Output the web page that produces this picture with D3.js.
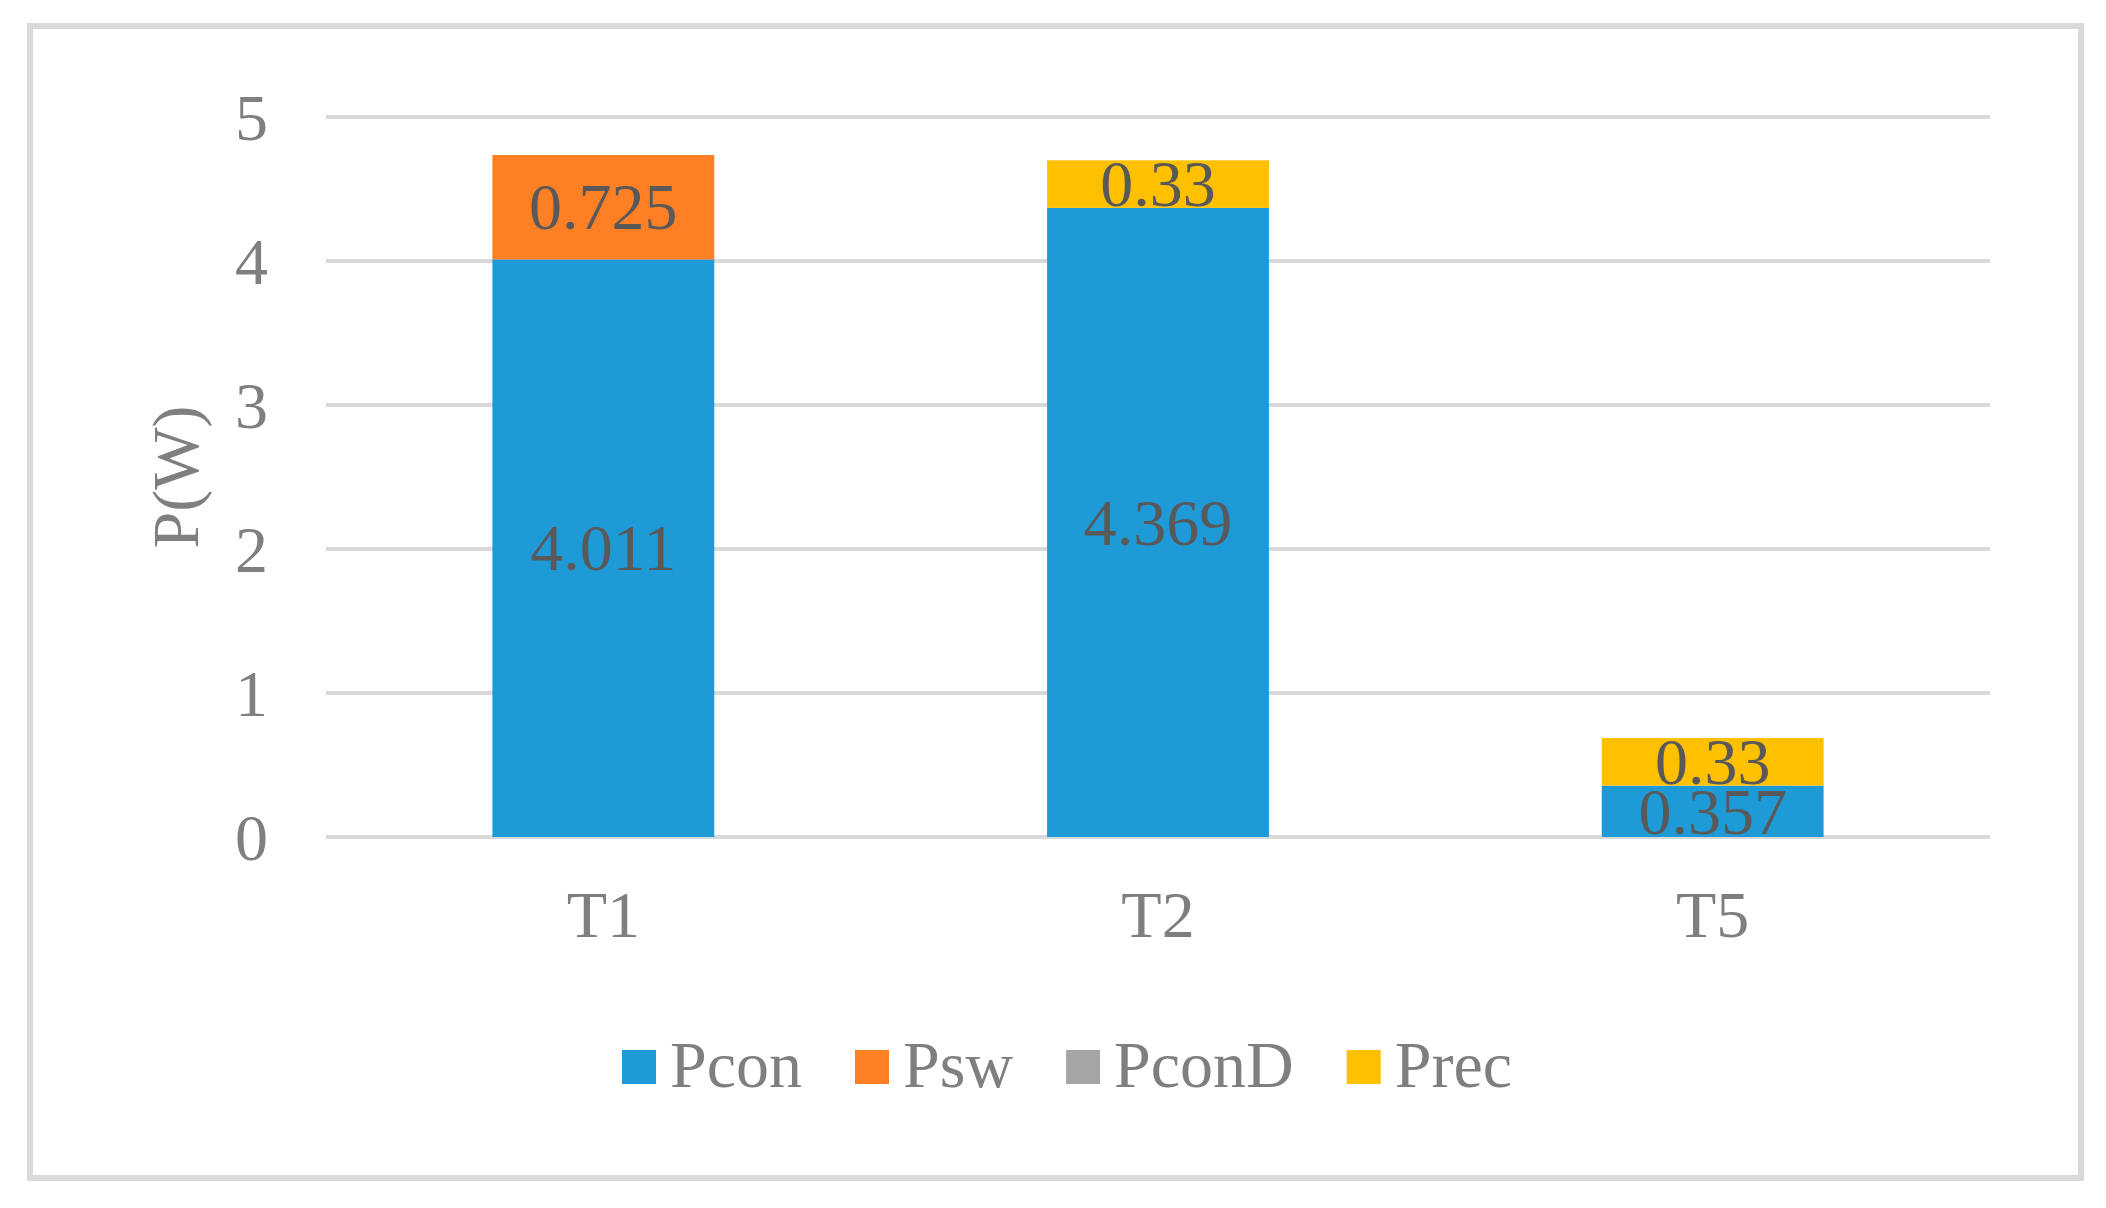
<!DOCTYPE html>
<html><head><meta charset="utf-8">
<script src="https://cdn.jsdelivr.net/npm/d3@7"></script>
<style>
html,body{margin:0;padding:0;background:#fff;}
svg{display:block;}
text{font-family:"Liberation Serif","Times New Roman",serif;}
</style></head>
<body>
<svg id="chart" width="2106" height="1208"></svg>
<script>
const categories = ["T1", "T2", "T5"];
const seriesNames = ["Pcon", "Psw", "PconD", "Prec"];
const Pcon  = [4.011, 4.369, 0.357];
const Psw   = [0.725, 0, 0];
const PconD = [0, 0, 0];
const Prec  = [0, 0.33, 0.33];
const yTicks = [0, 1, 2, 3, 4, 5];
const colors = ["#1E9BD7", "#FF7F24", "#A5A5A5", "#FFC000"];

const seriesValues = [Pcon, Psw, PconD, Prec];
const table = categories.map((c, i) => {
  const row = {cat: c};
  seriesNames.forEach((s, j) => row[s] = seriesValues[j][i]);
  return row;
});

const svg = d3.select("#chart");
const FS = 66;

// chart border
svg.append("rect").attr("x", 30).attr("y", 26).attr("width", 2051).attr("height", 1152)
  .attr("fill", "#fff").attr("stroke", "#D9D9D9").attr("stroke-width", 6);

const x = d3.scaleBand().domain(categories).range([326, 1990]).paddingInner(0.6).paddingOuter(0.3);
const y = d3.scaleLinear().domain([0, 5]).range([837, 117]);

// gridlines
svg.append("g").selectAll("line").data(yTicks).join("line")
  .attr("x1", 326).attr("x2", 1990)
  .attr("y1", d => y(d)).attr("y2", d => y(d))
  .attr("stroke", "#D9D9D9").attr("stroke-width", 4);

// y axis labels
const yAxis = d3.axisLeft(y).tickValues(yTicks).tickSize(0).tickPadding(0).tickFormat(d3.format("d"));
const gy = svg.append("g").attr("transform", "translate(268,0)").call(yAxis);
gy.select(".domain").remove();
gy.selectAll("text").attr("font-size", FS).attr("fill", "#7F7F7F")
  .attr("font-family", "Liberation Serif").attr("dy", null).attr("x", 0)
  .attr("y", 0.3375 * FS).attr("text-anchor", "end");

// x axis labels
const xAxis = d3.axisBottom(x).tickSize(0).tickPadding(0);
const gx = svg.append("g").attr("transform", "translate(0,837)").call(xAxis);
gx.select(".domain").remove();
gx.selectAll("text").attr("font-size", FS).attr("fill", "#7F7F7F")
  .attr("font-family", "Liberation Serif").attr("dy", null).attr("y", 100);

// y axis title
svg.append("text").attr("transform", "translate(198,477) rotate(-90)")
  .attr("text-anchor", "middle").attr("font-size", FS).attr("fill", "#7F7F7F")
  .text("P(W)");

// stacked bars
const stack = d3.stack().keys(seriesNames)(table);
const layers = svg.append("g").selectAll("g").data(stack).join("g")
  .attr("fill", (d, i) => colors[i]);
layers.selectAll("rect").data(d => d.filter(p => p[1] - p[0] > 0)).join("rect")
  .attr("x", d => x(d.data.cat)).attr("width", x.bandwidth())
  .attr("y", d => y(d[1])).attr("height", d => y(d[0]) - y(d[1]));

// data labels
const labels = svg.append("g");
stack.forEach(layer => {
  layer.filter(p => p[1] - p[0] > 0).forEach(p => {
    const v = p[1] - p[0];
    labels.append("text")
      .attr("x", x(p.data.cat) + x.bandwidth() / 2)
      .attr("y", (y(p[0]) + y(p[1])) / 2 + 0.3375 * FS)
      .attr("text-anchor", "middle").attr("font-size", FS).attr("fill", "#595959")
      .text(+v.toFixed(3));
  });
});

// legend
const legend = svg.append("g");
const items = legend.selectAll("g").data(seriesNames).join("g");
items.append("rect").attr("width", 34).attr("height", 34).attr("y", 1050)
  .attr("fill", (d, i) => colors[i]);
items.append("text").attr("x", 48).attr("y", 1087).attr("font-size", FS)
  .attr("fill", "#7F7F7F").text(d => d);
let cx = 0;
const offsets = [];
items.each(function() {
  const w = d3.select(this).select("text").node().getComputedTextLength();
  offsets.push(cx);
  cx += 48 + w + 53;
});
const total = cx - 53;
const start = 1067 - total / 2;
items.attr("transform", (d, i) => `translate(${start + offsets[i]},0)`);
</script>
</body></html>
